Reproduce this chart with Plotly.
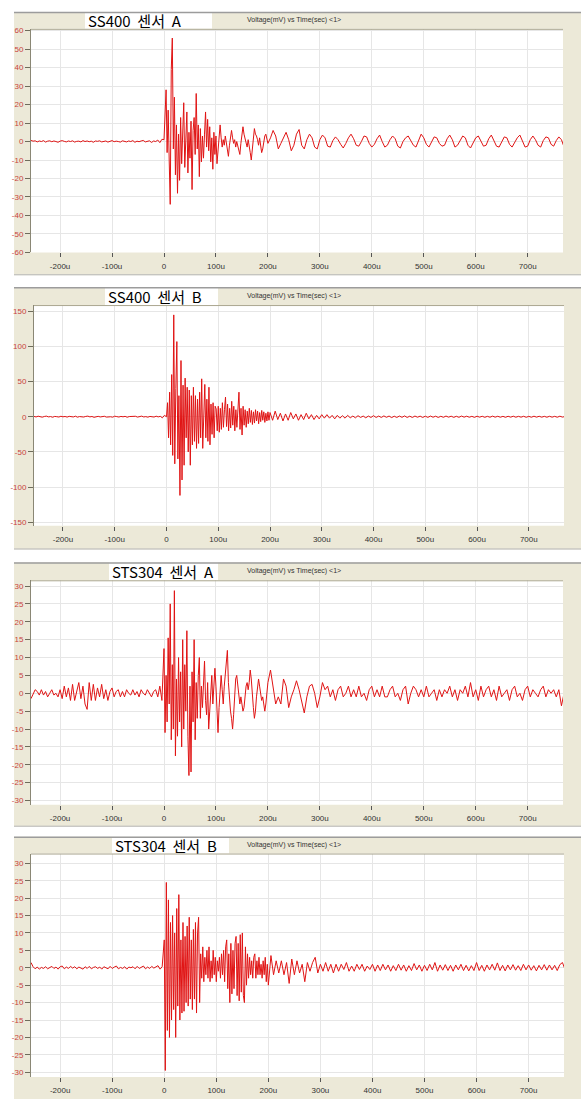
import plotly.graph_objects as go

W, H = 581, 1099

# ---------------- data (mV) ----------------
PRE_STEP_US = 4      # samples before the trigger, last one at -4 us
BURST_STEP_US = 2    # samples from the trigger (0 us)
TAIL_STEP_US = 5     # samples after the burst block

x_tick_values = [-200, -100, 0, 100, 200, 300, 400, 500, 600, 700]
x_tick_labels = ["-200u", "-100u", "0", "100u", "200u", "300u", "400u", "500u", "600u", "700u"]

titles = ["SS400\u00a0\u00a0센서\u00a0\u00a0A", "SS400\u00a0\u00a0센서\u00a0\u00a0B",
          "STS304\u00a0\u00a0센서\u00a0\u00a0A", "STS304\u00a0\u00a0센서\u00a0\u00a0B"]
subtitle = "Voltage(mV) vs Time(sec) <1>"

y_ticks_ss400a = [-60, -50, -40, -30, -20, -10, 0, 10, 20, 30, 40, 50, 60]
y_ticks_ss400b = [-150, -100, -50, 0, 50, 100, 150]
y_ticks_sts304 = [-30, -25, -20, -15, -10, -5, 0, 5, 10, 15, 20, 25, 30]

# --- SS400 sensor A ---
ss400a_pre = [
    0.6, 0.2, 0.4, -0.2, 0.3, 0.0, 0.5, -0.3, 0.2, 0.4,
    -0.1, 0.3, 0.0, -0.4, 0.2, 0.5, 0.1, -0.2, 0.3, 0.0,
    0.4, -0.3, 0.1, 0.2, -0.2, 0.5, 0.0, 0.3, -0.1, 0.2,
    -0.4, 0.3, 0.1, 0.4, -0.2, 0.0, 0.3, -0.3, 0.2, 0.5,
    -0.1, 0.2, 0.0, -0.3, 0.4, 0.1, -0.2, 0.3, 0.0, 0.5,
    -0.4, 0.2, -0.1, 0.3, 0.6, -0.2, 0.1, 0.4, -0.5, 0.3,
    0.0, 0.8, -0.6, 1.2]
ss400a_burst = [
    1, 12, 28, -6, 17, -10, -34, 39, 56, -4,
    24, -18, 9, -28, 4, -21, 13, -12, 7, 21,
    -14, 9, 16, -17, 5, -9, 11, -26, 6, 13,
    -7, 26, -4, 9, -19, 7, -11, 3, -9, 4,
    16, -3, 12, -5, 8, -11, 2, -15, 5, -7,
    3, -12, -4, 5, 9, 2, -3, 1, -2, 3,
    0, -5, -8, -2, 3, 6, 2, -1, 1, -3,
    0, -2, -5, -7, -1, 3, 8, 4, 2, 0,
    -3, 1, -4, -6, -10, -3, 3, 7, 4, 3,
    1, -2, 2, -3, -6, -4, 0, 3, 4, 1]
ss400a_tail = [
    -1, 2, 6, 3, -4, -1, 2, 5, 1, -5,
    -2, 4, 6.5, -2, -4, 1, 4, 2, -3, -4,
    1, 3.5, 2, -2.5, -3, 0.5, 2.5, 1, -1.5, -3.5,
    -1, 2, 4, 1.5, -2, -2.5, 0, 3, 2.5, -1,
    -3, -1.5, 1.5, 3.5, 0, -3, -2, 1, 3, 1.5,
    -2.5, -3.5, 0, 2, 3, 0.5, -2, -3, 1, 4,
    2, -1.5, -3, -0.5, 2.5, 2, -1, -2.5, -2, 1.5,
    3.5, 1, -3, -2, 0.5, 3, 2, -2, -3.5, -1,
    2, 3, 0, -2.5, -2, 1.5, 3.5, 0.5, -2.5, -3,
    0, 2.5, 2, -1.5, -3, -0.5, 2, 3.5, 0.5, -3,
    -2.5, 1, 3, 1, -2, -3, 0.5, 2.5, 2, -1.5,
    -2.5, 0.5, 2.5, 1, -3]

# --- SS400 sensor B ---
ss400b_pre = [
    0.5, -0.3, 0.8, 0.0, -0.6, 0.4, 0.9, -0.2, 0.3, -0.7,
    0.5, 0.1, -0.4, 0.7, -0.1, 0.4, -0.5, 0.6, 0.2, -0.3,
    0.8, -0.6, 0.3, 0.0, -0.4, 0.5, 0.9, -0.2, 0.4, -0.8,
    0.2, 0.6, -0.3, 0.1, 0.7, -0.5, 0.3, 0.0, -0.6, 0.8,
    0.2, -0.4, 0.5, -0.1, 0.6, -0.7, 0.3, 0.4, -0.2, 0.7,
    -0.5, 0.1, 0.9, -0.3, 0.2, -0.6, 0.5, 0.0, -0.4, 0.8,
    -0.2, 0.6, -1.5, 2.0]
ss400b_burst = [
    0, 20, -30, 35, -40, 60, -55, 145, -67, 40,
    107, -60, 30, -112, 80, -90, 45, -69, 55, -30,
    42, -50, 38, -69, 30, -40, 42, -35, 30, -45,
    25, -38, 35, -30, 54, -45, 20, 46, -30, 25,
    -35, 42, -40, 18, -25, 20, -30, 15, 11, -20,
    15, -22, 12, -18, 20, -15, 10, 28, -14, 18,
    -20, 12, -16, 22, -12, 15, -20, 10, -15, 20,
    35, -18, 12, -26, 15, -12, 10, -15, 8, -10,
    12, -8, 9, -11, 7, -9, 10, -6, 8, -10,
    6, -7, 9, -5, 7, -8, 5, -6, 7, -5]
ss400b_tail = [
    6, -5, 8, -4, 5, -6, 4, -5, 6, -3,
    4, -5, 3, -4, 5, -3, 3, -4, 2, -3,
    3, -2, 3, -2, 2, -3, 2, -2, 1.5, -2,
    2, -1.5, 1, -1.5, 1.5, -1, 1, -1.5, 1, -1,
    1.5, -1, 1, -1, 1.2, -0.8, 1, -1.2, 0.8, -1,
    1, -0.8, 1.2, -1, 0.8, -1, 1, -0.7, 0.9, -1,
    0.8, -0.9, 1, -0.7, 0.8, -1, 0.7, -0.8, 1, -0.6,
    0.8, -0.9, 0.7, -0.8, 1, -0.6, 0.8, -0.7, 0.6, -0.9,
    0.8, -0.6, 0.7, -0.8, 0.6, -0.7, 0.9, -0.6, 0.7, -0.7,
    0.6, -0.8, 0.7, -0.6, 0.8, -0.7, 0.6, -0.6, 0.7, -0.8,
    0.6, -0.7, 0.8, -0.6, 0.7, -0.6, 0.6, -0.7, 0.7, -0.6,
    0.6, -0.7, 0.8, -0.5, 0.4]

# --- STS304 sensor A ---
sts304a_pre = [
    -1.5, 0, 1, 0.5, -0.5, 1, -0.5, 0.5, -1, 0,
    1, -0.5, 0, -1, 1, -1.5, 2, -1, 1.5, -2,
    2.5, -2, 1, 3, -1.5, 2, -3, -4.5, 3, -2,
    2.5, -2, 1.5, -1, 2.5, -1.5, 1, -2, 0.5, 1.5,
    -1, 0.5, 1, -1, 0.5, -1, 1, 0, -0.5, 1,
    -0.5, 0.5, -1, 1, 0, -0.5, 1, 0, -1, 0.5,
    1, -1, 2, -2]
sts304a_burst = [
    12.5, -11, 5, -8, 15.5, -3, 25, -13, 8, -10,
    28.7, -17.5, 4, -12, 10, -8, 6, -15, 15, -10,
    8, -5, 17.5, -12, -23, 2, -22, 6, -8, 15,
    -13, 3, -7, 5, 10, -7, 2, -4, 4, 9,
    -2, -6, 3, -10, -5, 2, 5, -3, 3, 7,
    2, -6, -11, -4, 2, 5, 1, -3, 2, 6,
    9, 12, 3, -2, -5, -7, -10, -6, 1, 4,
    5, 2, -1, -3, -1, -3, -5, -4, 0, 2,
    3, 1, 3, 6.5, 4, -1, -4, -7, -5, -1,
    2, 4, 2, 0, -2, -1, -3, -5, -3, 0]
sts304a_tail = [
    3, 6.5, 2, -3, -1, -3, 4, 2, -4, -1,
    1, 3.5, 1, -2, -5.5, -1, 2, 2.5, 0, -4,
    -1, 3, 1, 2, -1, 1, -2, 1, 2, -1,
    0, 2, -1, 1, -1, 2, -1, 0, -2, 1,
    2, -1, 1, -1, 2, -1, -1, 1, 2, -1,
    0, -2, 1, 2, -3, 0, 2, 1, -1, 1,
    -1, 2, -1, 0, 1, -2, 1, -1, 1, 0,
    2, -1, 1, -2, 1, 0, 2, -1, 3, -1,
    1, -2, 2, -1, 1, 2, -1, 1, -2, 2,
    -1, 0, 1, -2, 1, 2, -1, 0, -2, 1,
    2, -1, 1, 0, -1, 1, 2, -1, 1, 0,
    1, -1, 1, -3.5, 0]

# --- STS304 sensor B ---
sts304b_pre = [
    1.5, 0.3, -0.3, 0.2, -0.4, 0.1, -0.2, 0.3, -0.3, 0.0,
    0.4, -0.2, 0.2, -0.4, 0.3, 0.5, -0.3, 0.2, -0.2, 0.4,
    -0.1, 0.3, -0.3, 0.2, 0.0, -0.4, 0.3, -0.2, 0.4, -0.3,
    0.1, 0.3, -0.2, 0.2, -0.4, 0.3, 0.0, -0.3, 0.4, -0.2,
    0.2, 0.5, -0.3, 0.1, -0.2, 0.3, -0.4, 0.2, 0.0, 0.3,
    -0.3, 0.4, -0.2, 0.1, 0.5, -0.3, 0.2, -0.2, 0.4, -0.1,
    0.3, 0.6, -0.4, 0.3]
sts304b_burst = [
    8, -29.5, 24.5, -18, 19.5, -20, 13, -15, 15, -12,
    10, -20, 17, -11, 21, -15, 8, -13, 13, -12.5,
    9, -10, 12, -11, 14.5, -9, 8, -12, 11, -9,
    13, -13, 10, 14.5, -10, 4, -3, 6, -4, 3,
    -2, 5, -3, 6, -4, 2, -3, 5, -2, 3,
    -4, 2, -1, 3, -3, 4, -2, 5, -4, 6,
    8, -6, 4, -10, 7, -7.5, 5, -6, 7, 9,
    -8, 7, -9.5, 9.5, -7, 10, -8, -10, 6, -5,
    4, -3, 3, -2, 2, -3, 3, 4, -3, 2,
    -2, 3, -2, 1, -3, 2, -2, 3, -4, 1]
sts304b_tail = [
    -5, 3.5, -2, 2, -1.5, 2, -2, 1.5, -4.5, 2.5,
    -2, 2, -1.5, 1, -4, 1.5, -1, 1.5, 3, -1.5,
    1, -1, 1.5, -1, 1, -1.5, 1, -1, 1, -0.5,
    1.5, -1, 0.5, -1, 1, -0.5, 1, -1, 0.5, -0.5,
    1, -1, 0.8, -0.8, 1, -0.6, 0.8, -1, 0.6, -0.8,
    1, -0.7, 0.8, -1, 0.6, -0.8, 1.2, -0.6, 0.8, -1,
    0.7, -0.8, 1, -0.6, 1.5, -1, 0.8, -0.7, 0.9, -0.8,
    0.7, -1, 0.8, -0.6, 1, -0.8, 0.7, -0.9, 0.6, -0.8,
    1.5, -0.8, 0.7, -1, 0.8, -0.6, 1, -0.7, 1.4, -0.8,
    0.7, -0.9, 0.8, -0.6, 0.9, -0.7, 0.6, -0.8, 1, -0.6,
    0.8, -0.7, 0.6, -0.9, 0.7, -0.6, 0.9, -0.7, 0.8, -0.6,
    0.7, -0.8, 0.9, 1.5, -0.5]

series = [
    (ss400a_pre, ss400a_burst, ss400a_tail, y_ticks_ss400a),
    (ss400b_pre, ss400b_burst, ss400b_tail, y_ticks_ss400b),
    (sts304a_pre, sts304a_burst, sts304a_tail, y_ticks_sts304),
    (sts304b_pre, sts304b_burst, sts304b_tail, y_ticks_sts304),
]

# ---------------- layout (pixels) ----------------
panel_px = [
    dict(frame=(14, 10, 581, 275), plot=(31, 27, 563, 252), tbox=(85, 10, 212, 27), yr=(-60, 61), sub_y=18, standoff=2),
    dict(frame=(14, 287, 581, 551), plot=(34, 305, 564, 527), tbox=(105, 287, 218, 305), yr=(-155, 159), sub_y=296, standoff=2),
    dict(frame=(14, 564, 581, 830), plot=(31, 582, 563, 808), tbox=(109, 564, 218, 582), yr=(-31.2, 31.6), sub_y=573, standoff=2),
    dict(frame=(14, 840, 581, 1110), plot=(31, 857, 564, 1082), tbox=(112, 840, 229, 857), yr=(-31.4, 32.8), sub_y=848, standoff=1),
]

BEIGE = "#ece9d8"
GRID = "#e6e6e6"
TRACE = "#e01414"
YLAB = "#c8433e"
TICKFONT = "Liberation Sans"


def px_x(v):
    return v / W


def px_y(v):
    return 1 - v / H


def times(pre, burst, tail):
    t_pre = [-PRE_STEP_US * (len(pre) - i) for i in range(len(pre))]
    t_burst = [BURST_STEP_US * i for i in range(len(burst))]
    start_tail = BURST_STEP_US * len(burst)
    t_tail = [start_tail + TAIL_STEP_US * i for i in range(len(tail))]
    return t_pre + t_burst + t_tail


fig = go.Figure()
shapes = []
annotations = []
layout_axes = {}

for i, ((pre, burst, tail, yt), cfg) in enumerate(zip(series, panel_px), start=1):
    sfx = "" if i == 1 else str(i)
    t = times(pre, burst, tail)
    v = list(pre) + list(burst) + list(tail)
    fig.add_trace(go.Scatter(x=t, y=v, mode="lines", line=dict(color=TRACE, width=1),
                             xaxis="x" + sfx, yaxis="y" + sfx, showlegend=False, hoverinfo="skip"))

    fl, ft, fr, fb = cfg["frame"]
    pl, pt, pr, pb = cfg["plot"]
    tl, tt, tr, tb = cfg["tbox"]

    shapes.append(dict(type="rect", xref="paper", yref="paper", layer="below",
                       x0=px_x(fl), x1=px_x(fr + 5), y0=px_y(fb), y1=px_y(ft),
                       fillcolor=BEIGE, line=dict(width=0)))
    shapes.append(dict(type="rect", xref="paper", yref="paper", layer="below",
                       x0=px_x(pl), x1=px_x(pr), y0=px_y(pb), y1=px_y(pt),
                       fillcolor="white", line=dict(width=0)))
    shapes.append(dict(type="rect", xref="paper", yref="paper", layer="below",
                       x0=px_x(tl), x1=px_x(tr), y0=px_y(tb), y1=px_y(tt),
                       fillcolor="white", line=dict(width=0)))
    shapes.append(dict(type="line", xref="paper", yref="paper", layer="above",
                       x0=px_x(fl), x1=px_x(fr + 5), y0=px_y(ft + 0.5), y1=px_y(ft + 0.5),
                       line=dict(color="#9c9c9c", width=1.5)))
    shapes.append(dict(type="line", xref="paper", yref="paper", layer="above",
                       x0=px_x(fl), x1=px_x(fr + 5), y0=px_y(fb - 0.5), y1=px_y(fb - 0.5),
                       line=dict(color="#b8b8b8", width=1)))
    shapes.append(dict(type="line", xref="paper", yref="paper", layer="above",
                       x0=px_x(pl), x1=px_x(pr), y0=px_y(pt + 0.5), y1=px_y(pt + 0.5),
                       line=dict(color="#aaa68f", width=1)))

    annotations.append(dict(xref="paper", yref="paper", x=px_x(tl + 1), y=px_y((tt + tb) / 2 + 0.5),
                            xanchor="left", yanchor="middle", showarrow=False, text=titles[i - 1],
                            font=dict(family="Noto Sans CJK KR", size=15, color="black")))
    annotations.append(dict(xref="paper", yref="paper", x=px_x(245), y=px_y(cfg["sub_y"]),
                            xanchor="left", yanchor="middle", showarrow=False, text=subtitle,
                            font=dict(family=TICKFONT, size=7, color="#333333")))

    layout_axes["xaxis" + sfx] = dict(
        domain=[px_x(pl), px_x(pr)], range=[-256, 768], anchor="y" + sfx,
        tickmode="array", tickvals=x_tick_values, ticktext=x_tick_labels,
        ticks="outside", ticklen=4, tickcolor="#555555", ticklabelstandoff=cfg["standoff"],
        showgrid=True, gridcolor=GRID, gridwidth=1, zeroline=False, showline=False,
        tickfont=dict(family=TICKFONT, size=8, color="#333333"), fixedrange=True)
    layout_axes["yaxis" + sfx] = dict(
        domain=[px_y(pb), px_y(pt)], range=list(cfg["yr"]), anchor="x" + sfx,
        tickmode="array", tickvals=yt, ticktext=[str(v) for v in yt],
        ticks="outside", ticklen=5, tickcolor="#6f6c5c",
        showgrid=True, gridcolor=GRID, gridwidth=1, zeroline=False,
        showline=True, linecolor="#8a8775", linewidth=1,
        tickfont=dict(family=TICKFONT, size=8, color=YLAB), fixedrange=True)

fig.update_layout(width=W, height=H, autosize=False,
                  margin=dict(l=0, r=0, t=0, b=0),
                  paper_bgcolor="white", plot_bgcolor="rgba(0,0,0,0)",
                  shapes=shapes, annotations=annotations, showlegend=False,
                  hovermode=False, **layout_axes)

fig.write_html("out.html", config={"displayModeBar": False},
               post_script="document.body.style.margin='0';document.body.style.overflow='hidden';")
